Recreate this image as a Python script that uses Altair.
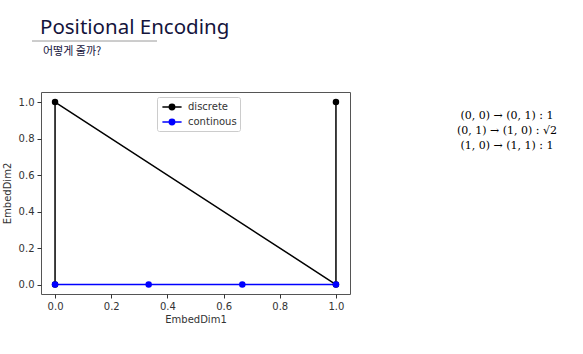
import altair as alt
import pandas as pd

# discrete path (ordered)
disc_x = [0, 0, 1, 1]
disc_y = [0, 1, 0, 1]
# continuous points
cont_x = [0, 1/3, 2/3, 1]
cont_y = [0, 0, 0, 0]

series_names = ["discrete", "continous"]
series_colors = ["#000000", "#0000ff"]
ticks = [0.0, 0.2, 0.4, 0.6, 0.8, 1.0]

title_text = "Positional Encoding"
subtitle_text = "어떻게 줄까?"
formula_lines = ["(0, 0) → (0, 1) : 1", "(0, 1) → (1, 0) : √2", "(1, 0) → (1, 1) : 1"]

rows = []
for i, (x, y) in enumerate(zip(disc_x, disc_y)):
    rows.append({"x": x, "y": y, "series": series_names[0], "order": i})
for i, (x, y) in enumerate(zip(cont_x, cont_y)):
    rows.append({"x": x, "y": y, "series": series_names[1], "order": i})
df = pd.DataFrame(rows)

PLOT_W, PLOT_H = 309, 202
LEFT, TOP = 41, 92

xs = alt.Scale(domain=[-0.05, 1.05], nice=False, zero=False)
ys = alt.Scale(domain=[-0.052, 1.055], nice=False, zero=False)
color = alt.Color(
    "series:N",
    scale=alt.Scale(domain=series_names, range=series_colors),
    sort=series_names,
    legend=alt.Legend(
        title=None,
        orient="none",
        legendX=157 - LEFT,
        legendY=97 - TOP,
        symbolType="M-1.6,0H1.6M-0.45,0A0.45,0.45 0 1,0 0.45,0A0.45,0.45 0 1,0 -0.45,0Z",
        symbolSize=144,
        symbolStrokeWidth=1.5,
        symbolOffset=5,
        labelFontSize=10,
        labelFont="DejaVu Sans",
        labelColor="#333333",
        rowPadding=2,
        padding=3,
        strokeColor="#cccccc",
        fillColor="white",
        cornerRadius=2,
        labelOffset=9,
    ),
)

xaxis = alt.Axis(values=ticks, format=".1f", title="EmbedDim1", grid=False,
                 labelFontSize=10, titleFontSize=10, labelColor="#333333",
                 titleColor="#333333", tickColor="#333333", domain=False,
                 labelFont="DejaVu Sans", titleFont="DejaVu Sans",
                 tickSize=4, labelPadding=3, titlePadding=3, titleFontWeight="normal")
yaxis = alt.Axis(values=ticks, format=".1f", title="EmbedDim2", grid=False,
                 labelFontSize=10, titleFontSize=10, labelColor="#333333",
                 titleColor="#333333", tickColor="#333333", domain=False,
                 labelFont="DejaVu Sans", titleFont="DejaVu Sans",
                 tickSize=4, labelPadding=3, titlePadding=6, titleFontWeight="normal")

base = alt.Chart(df).encode(
    x=alt.X("x:Q", scale=xs, axis=xaxis),
    y=alt.Y("y:Q", scale=ys, axis=yaxis),
    color=color,
    order="order:O",
)
lines = base.mark_line(strokeWidth=1.5)
points = base.mark_point(filled=True, size=42, opacity=1)

ann = pd.DataFrame({"t": [0]})
title = alt.Chart(ann).mark_text(
    text=title_text, font="Noto Sans", fontSize=20.5, align="left", baseline="alphabetic",
    color="#14143c"
).encode(x=alt.value(40 - LEFT), y=alt.value(34 - TOP))
underline = alt.Chart(ann).mark_rule(color="#9a9a9a", strokeWidth=1).encode(
    x=alt.value(32 - LEFT), x2=alt.value(157 - LEFT), y=alt.value(41 - TOP))
subtitle = alt.Chart(ann).mark_text(
    text=subtitle_text, font="Noto Sans CJK KR", fontSize=11, align="left", baseline="alphabetic",
    color="#14143c"
).encode(x=alt.value(43 - LEFT), y=alt.value(55 - TOP))

formulas = alt.Chart(ann).mark_text(
    text=formula_lines, font="DejaVu Serif", fontSize=11, align="center", baseline="middle",
    lineHeight=15, color="#000000"
).encode(x=alt.value(507 - LEFT), y=alt.value(116 - TOP))

chart = alt.layer(lines, points, underline, title, subtitle, formulas).properties(
    width=PLOT_W, height=PLOT_H,
    padding={"left": LEFT, "top": TOP, "right": 583 - LEFT - PLOT_W, "bottom": 354 - TOP - PLOT_H},
    autosize=alt.AutoSizeParams(type="none"),
).configure_view(stroke="#555555", strokeWidth=1)

chart.save("out.html", embed_options={"renderer": "svg", "actions": False})
